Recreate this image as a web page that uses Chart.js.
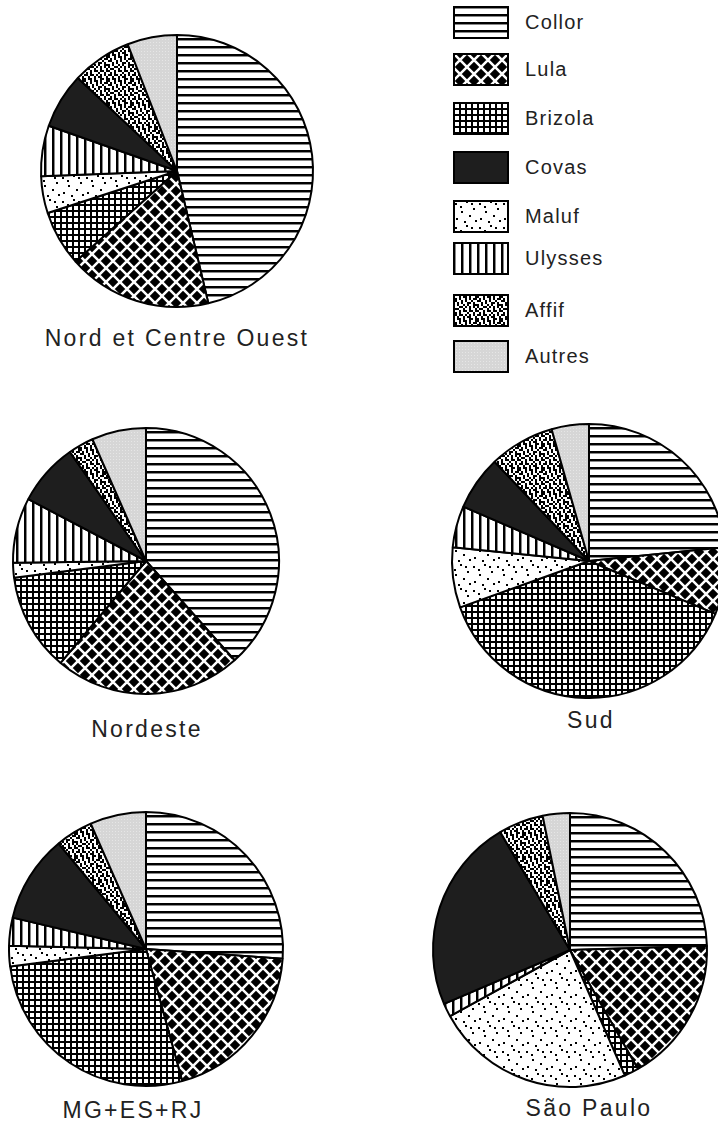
<!DOCTYPE html>
<html lang="fr">

<head>
    <meta charset="UTF-8">
    <title>Election 1989 - votes par region</title>
    <style>
        html, body {
            margin: 0;
            padding: 0;
            background: #fff;
            width: 718px;
            height: 1131px;
            overflow: hidden;
            position: relative;
            font-family: 'Liberation Sans', Arial, sans-serif;
            color: #222;
        }

        .pie {
            position: absolute;
        }

        .region-label {
            position: absolute;
            font-size: 23px;
            letter-spacing: 2.3px;
            white-space: nowrap;
            transform: translate(-50%, -50%);
        }

        .swatch {
            position: absolute;
            left: 453px;
        }

        .legend-label {
            position: absolute;
            left: 525px;
            font-size: 20px;
            letter-spacing: 1.2px;
            line-height: 33px;
        }
    </style>
</head>

<body>
    <script src="https://cdn.jsdelivr.net/npm/chart.js"></script>
    <script>
        // Candidates in the order the slices go round (clockwise from 12 o'clock)
        const candidates = ['Collor', 'Lula', 'Brizola', 'Maluf', 'Ulysses', 'Covas', 'Affif', 'Autres'];
        // Legend order, as printed
        const legendOrder = ['Collor', 'Lula', 'Brizola', 'Covas', 'Maluf', 'Ulysses', 'Affif', 'Autres'];

        const regionNames = ['Nord et Centre Ouest', 'Nordeste', 'Sud', 'MG+ES+RJ', 'São Paulo'];

        // vote shares (%)
        const nordCentreOuest = [46.3, 17.1, 6.6, 4.4, 6.0, 6.6, 7.1, 5.9];
        const nordeste = [38.4, 22.7, 11.9, 1.8, 7.9, 7.6, 3.1, 6.6];
        const sud = [23.4, 7.9, 38.2, 7.1, 4.9, 6.4, 7.7, 4.4];
        const mgEsRj = [26.1, 19.6, 27.2, 2.4, 3.3, 10.3, 4.4, 6.6];
        const saoPaulo = [24.5, 17.2, 1.7, 23.5, 1.6, 22.9, 5.3, 3.2];

        const regionValues = [nordCentreOuest, nordeste, sud, mgEsRj, saoPaulo];

        // layout: pie centre, radius, label centre
        const layout = [
            { cx: 177, cy: 171, r: 136, lx: 177, ly: 338 },
            { cx: 146, cy: 561, r: 133, lx: 147, ly: 729 },
            { cx: 589, cy: 561, r: 137, lx: 591, ly: 720 },
            { cx: 146, cy: 949, r: 137, lx: 133, ly: 1110 },
            { cx: 570, cy: 950, r: 137, lx: 589, ly: 1108 }
        ];
        const legendTops = [6, 53, 102, 151, 200, 242, 294, 340];

        // ---- black & white fill patterns ----
        function tile(w, h, draw) {
            const c = document.createElement('canvas');
            c.width = w;
            c.height = h;
            const g = c.getContext('2d');
            draw(g, w, h);
            return c;
        }

        function bitmap(rows, cell) {
            return tile(rows[0].length * cell, rows.length * cell, (g) => {
                g.fillStyle = '#fff';
                g.fillRect(0, 0, rows[0].length * cell, rows.length * cell);
                g.fillStyle = '#000';
                rows.forEach((row, y) => {
                    for (let x = 0; x < row.length; x++) {
                        if (row[x] === '#') g.fillRect(x * cell, y * cell, cell, cell);
                    }
                });
            });
        }

        const tiles = {
            Collor: tile(8, 8, (g) => {
                g.fillStyle = '#fff'; g.fillRect(0, 0, 8, 8);
                g.fillStyle = '#000'; g.fillRect(0, 0, 8, 2);
                g.fillStyle = '#888'; g.fillRect(0, 2, 8, 1);
            }),
            Lula: tile(14, 14, (g) => {
                g.fillStyle = '#000'; g.fillRect(0, 0, 14, 14);
                g.strokeStyle = '#fff';
                g.lineWidth = 2.5;
                for (let k = -1; k <= 1; k++) {
                    g.beginPath();
                    g.moveTo(k * 14 - 2, -2); g.lineTo(k * 14 + 16, 16);
                    g.moveTo(k * 14 + 16, -2); g.lineTo(k * 14 - 2, 16);
                    g.stroke();
                }
            }),
            Brizola: tile(6, 6, (g) => {
                g.fillStyle = '#fff'; g.fillRect(0, 0, 6, 6);
                g.fillStyle = '#000';
                g.fillRect(0, 0, 6, 2);
                g.fillRect(0, 0, 2, 6);
            }),
            Covas: tile(4, 4, (g) => {
                g.fillStyle = '#1e1e1e'; g.fillRect(0, 0, 4, 4);
            }),
            Maluf: tile(24, 24, (g) => {
                g.fillStyle = '#fff'; g.fillRect(0, 0, 24, 24);
                g.fillStyle = '#000';
                [[2, 3], [13, 1], [20, 8], [8, 11], [16, 15], [3, 18], [11, 21], [22, 20], [7, 6], [18, 3]]
                    .forEach(([x, y]) => g.fillRect(x, y, 2, 2));
            }),
            Ulysses: tile(8, 8, (g) => {
                g.fillStyle = '#fff'; g.fillRect(0, 0, 8, 8);
                g.fillStyle = '#000'; g.fillRect(0, 0, 2, 8);
                g.fillStyle = '#888'; g.fillRect(2, 0, 1, 8);
            }),
            Affif: bitmap([
                '#.##.#..##.#',
                '#..#.##.#..#',
                '.#.#..#.#.##',
                '##..#.#..#..',
                '..#.#..##.#.',
                '#.#..#.#..##',
                '#..##.#.#.#.',
                '.##..#..#..#',
                '#..#.##.##.#',
                '.#.#...#..#.',
                '##.##.#.#.#.',
                '..#..#.##..#'
            ], 2),
            Autres: tile(3, 3, (g) => {
                g.fillStyle = '#d6d6d6'; g.fillRect(0, 0, 3, 3);
                g.fillStyle = '#e6e6e6'; g.fillRect(0, 0, 1, 1);
            })
        };

        function patternFor(ctx, name) {
            return ctx.createPattern(tiles[name], 'repeat');
        }

        // ---- pies ----
        regionValues.forEach((values, i) => {
            const L = layout[i];
            const size = 2 * L.r + 10;
            const canvas = document.createElement('canvas');
            canvas.className = 'pie';
            canvas.width = size;
            canvas.height = size;
            canvas.style.left = (L.cx - size / 2) + 'px';
            canvas.style.top = (L.cy - size / 2) + 'px';
            document.body.appendChild(canvas);
            const ctx = canvas.getContext('2d');

            new Chart(ctx, {
                type: 'pie',
                data: {
                    labels: candidates,
                    datasets: [{
                        data: values,
                        backgroundColor: candidates.map(c => patternFor(ctx, c)),
                        borderColor: '#000',
                        borderWidth: 2
                    }]
                },
                options: {
                    responsive: false,
                    animation: false,
                    radius: L.r,
                    layout: { padding: 0 },
                    plugins: {
                        legend: { display: false },
                        tooltip: { enabled: false }
                    }
                }
            });

            const label = document.createElement('div');
            label.className = 'region-label';
            label.textContent = regionNames[i];
            label.style.left = L.lx + 'px';
            label.style.top = L.ly + 'px';
            document.body.appendChild(label);
        });

        // ---- legend ----
        legendOrder.forEach((name, i) => {
            const sw = document.createElement('canvas');
            sw.className = 'swatch';
            sw.width = 56;
            sw.height = 33;
            sw.style.top = legendTops[i] + 'px';
            document.body.appendChild(sw);
            const g = sw.getContext('2d');
            g.fillStyle = patternFor(g, name);
            g.fillRect(0, 0, 56, 33);
            g.strokeStyle = '#000';
            g.lineWidth = 2;
            g.strokeRect(1, 1, 54, 31);

            const lab = document.createElement('div');
            lab.className = 'legend-label';
            lab.textContent = name;
            lab.style.top = legendTops[i] + 'px';
            document.body.appendChild(lab);
        });
    </script>
</body>

</html>
